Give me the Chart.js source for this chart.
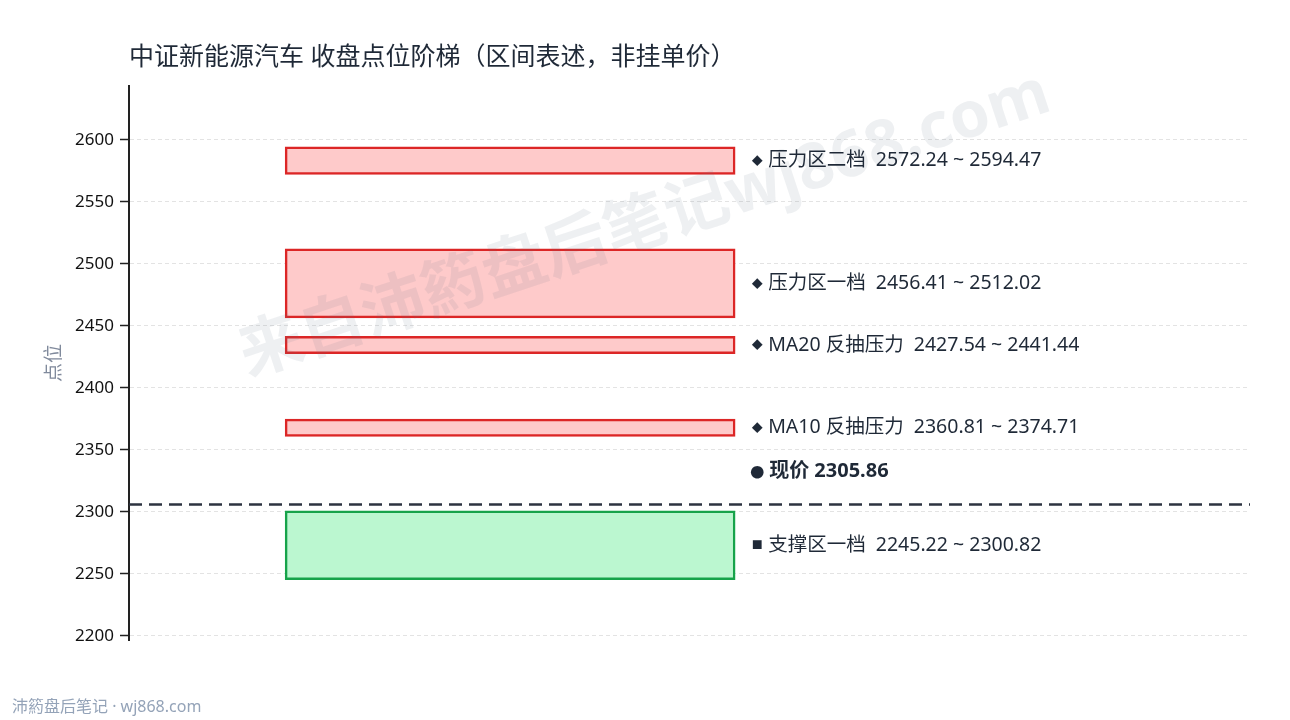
<!DOCTYPE html>
<html lang="zh-CN">
<head>
<meta charset="utf-8">
<title>中证新能源汽车 收盘点位阶梯</title>
<script src="https://cdn.jsdelivr.net/npm/chart.js@4.4.1/dist/chart.umd.min.js"></script>
<style>
  html, body { margin: 0; padding: 0; background: #fff; }
  #wrap { width: 1290px; height: 720px; position: relative; }
</style>
</head>
<body>
<div id="wrap"><canvas id="chart"></canvas></div>
<script>
// 文本
const TITLE = '中证新能源汽车 收盘点位阶梯（区间表述，非挂单价）';
const Y_TITLE = '点位';
const FOOTER = '沛箹盘后笔记 · wj868.com';
const WATERMARK = '来自沛箹盘后笔记wj868.com';

// 压力区间
const resistNames = ['压力区二档', '压力区一档', 'MA20 反抽压力', 'MA10 反抽压力'];
const resistLow = [2572.24, 2456.41, 2427.54, 2360.81];
const resistHigh = [2594.47, 2512.02, 2441.44, 2374.71];

// 支撑区间
const supportNames = ['支撑区一档'];
const supportLow = [2245.22];
const supportHigh = [2300.82];

// 现价
const priceName = '现价';
const lastPrice = 2305.86;

// 纵轴刻度
const yTicks = [2200, 2250, 2300, 2350, 2400, 2450, 2500, 2550, 2600];

const FONT = "'Noto Sans', 'Noto Sans CJK SC', sans-serif";
const TEXT_DARK = '#1f2937';
const ZONE_X = 0.34;

Chart.defaults.font.family = FONT;

function zones(low, high) {
  return low.map((lo, i) => ({ x: ZONE_X, y: [lo, high[i]] }));
}

// 标题 / 水印 / 区间标注
const decorPlugin = {
  id: 'decor',
  beforeDraw(chart) {
    const ctx = chart.ctx;
    ctx.save();
    ctx.fillStyle = TEXT_DARK;
    ctx.font = `25px ${FONT}`;
    ctx.textBaseline = 'middle';
    ctx.textAlign = 'left';
    ctx.fillText(TITLE, 129, 58);

    ctx.fillStyle = '#94a3b8';
    ctx.font = `16px ${FONT}`;
    ctx.fillText(FOOTER, 12, 707);
    ctx.restore();
  },
  afterDatasetsDraw(chart) {
    const ctx = chart.ctx;
    const y = chart.scales.y;

    // 水印
    ctx.save();
    ctx.translate(645, 226);
    ctx.rotate(-18.3 * Math.PI / 180);
    ctx.font = `bold 64px ${FONT}`;
    ctx.fillStyle = 'rgba(100, 116, 139, 0.11)';
    ctx.textAlign = 'center';
    ctx.textBaseline = 'middle';
    ctx.fillText(WATERMARK, 0, 0);
    ctx.restore();

    const drawLabel = (datasetIndex, names, low, high, marker) => {
      const meta = chart.getDatasetMeta(datasetIndex);
      names.forEach((name, i) => {
        const el = meta.data[i];
        const right = el.x + el.width / 2;
        const py = y.getPixelForValue((low[i] + high[i]) / 2);
        ctx.save();
        ctx.fillStyle = TEXT_DARK;
        ctx.textBaseline = 'middle';
        ctx.textAlign = 'center';
        ctx.font = `11px 'Noto Sans CJK SC'`;
        ctx.fillText(marker, right + 22, py);
        ctx.textAlign = 'left';
        ctx.font = `19.5px ${FONT}`;
        ctx.fillText(`${name}  ${low[i].toFixed(2)} ~ ${high[i].toFixed(2)}`, right + 33, py);
        ctx.restore();
      });
    };
    drawLabel(0, resistNames, resistLow, resistHigh, '◆');
    drawLabel(1, supportNames, supportLow, supportHigh, '■');

    // 现价标注
    const meta = chart.getDatasetMeta(0);
    const right = meta.data[0].x + meta.data[0].width / 2;
    const py = y.getPixelForValue(lastPrice) - 33;
    ctx.save();
    ctx.fillStyle = TEXT_DARK;
    ctx.textBaseline = 'middle';
    ctx.textAlign = 'center';
    ctx.font = `14px 'Noto Sans CJK SC'`;
    ctx.fillText('●', right + 22, py);
    ctx.textAlign = 'left';
    ctx.font = `bold 20px ${FONT}`;
    ctx.fillText(`${priceName} ${lastPrice.toFixed(2)}`, right + 34, py);
    ctx.restore();
  }
};

new Chart(document.getElementById('chart'), {
  type: 'bar',
  data: {
    datasets: [
      {
        label: '压力区',
        data: zones(resistLow, resistHigh),
        backgroundColor: '#fecaca',
        borderColor: '#dc2626',
        borderWidth: 2.5,
        borderSkipped: false,
        barThickness: 450,
        grouped: false,
      },
      {
        label: '支撑区',
        data: zones(supportLow, supportHigh),
        backgroundColor: '#bbf7d0',
        borderColor: '#16a34a',
        borderWidth: 2.5,
        borderSkipped: false,
        barThickness: 450,
        grouped: false,
      },
      {
        type: 'line',
        label: priceName,
        data: [{ x: 0, y: lastPrice }, { x: 1, y: lastPrice }],
        borderColor: '#2d3340',
        borderWidth: 2.5,
        borderDash: [13, 7],
        pointRadius: 0,
        fill: false,
      },
    ]
  },
  options: {
    responsive: true,
    maintainAspectRatio: false,
    devicePixelRatio: 1,
    animation: false,
    layout: { padding: { top: 86, bottom: 80, left: 0, right: 40 } },
    plugins: {
      legend: { display: false },
      tooltip: { enabled: false },
      title: { display: false },
    },
    scales: {
      x: { type: 'linear', min: 0, max: 1, offset: false, display: false },
      y: {
        min: 2196.5,
        max: 2643.5,
        afterBuildTicks: (s) => { s.ticks = yTicks.map(v => ({ value: v })); },
        afterFit: (s) => { s.width = 129; },
        ticks: { color: '#111', padding: 6, font: { size: 17 }, callback: (v) => String(v) },
        grid: { color: '#e3e3e3', lineWidth: 1, tickLength: 9, tickColor: '#222', tickWidth: 1.5 },
        border: { display: true, color: '#222', width: 2, dash: [4, 3] },
        title: {
          display: true,
          text: Y_TITLE,
          color: '#808a9c',
          font: { size: 19 },
          padding: { top: 43, bottom: 0 },
        },
      },
    },
  },
  plugins: [decorPlugin],
});
</script>
</body>
</html>
